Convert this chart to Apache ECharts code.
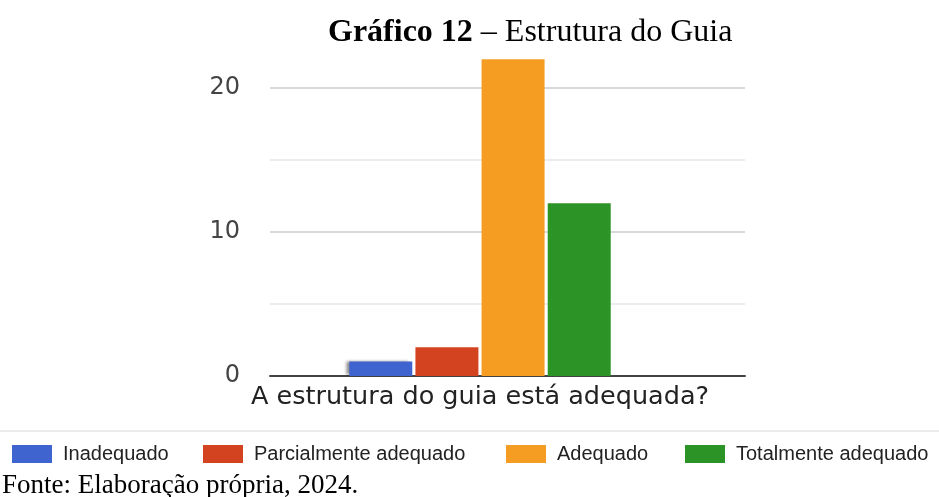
<!DOCTYPE html>
<html>
<head>
<meta charset="utf-8">
<script src="https://cdn.jsdelivr.net/npm/echarts@6/dist/echarts.min.js"></script>
<style>
html,body{margin:0;padding:0;background:#fff;}
#chart{width:939px;height:497px;}
</style>
</head>
<body>
<div id="chart"></div>
<script>
const categories = ['A estrutura do guia está adequada?'];
const seriesNames = ['Inadequado', 'Parcialmente adequado', 'Adequado', 'Totalmente adequado'];
const seriesValues = [[1], [2], [22], [12]];
const seriesColors = ['#3f63cf', '#d4431f', '#f59c23', '#2c9326'];
const yLabelTicks = [0, 10, 20];
const titleBold = 'Gráfico 12';
const titleRest = ' – Estrutura do Guia';
const sourceText = 'Fonte: Elaboração própria, 2024.';

const legendLefts = [12, 203, 506, 685];

const chart = echarts.init(document.getElementById('chart'), null, {renderer: 'canvas'});

const series = seriesNames.map((name, i) => ({
  name: name,
  type: 'bar',
  xAxisIndex: 1,
  yAxisIndex: 1,
  data: seriesValues[i],
  barWidth: 63,
  barGap: '5%',
  itemStyle: Object.assign({color: seriesColors[i]}, i === 0 ? {
    shadowColor: 'rgba(0,0,0,0.45)', shadowBlur: 3, shadowOffsetX: -3, shadowOffsetY: -1
  } : {}),
  emphasis: {disabled: true},
  animation: false
}));

const legends = seriesNames.map((name, i) => ({
  data: [name],
  left: legendLefts[i],
  top: 444,
  orient: 'horizontal',
  itemWidth: 40,
  itemHeight: 18,
  icon: 'rect',
  selectedMode: false,
  padding: 0,
  textStyle: {
    fontFamily: 'Liberation Sans, Arial, sans-serif',
    fontSize: 20,
    color: '#222',
    padding: [0, 0, 0, 6]
  }
}));

chart.setOption({
  animation: false,
  backgroundColor: '#fff',
  title: [
    {
      text: '{b|' + titleBold + '}' + titleRest,
      left: 328,
      top: 17,
      padding: 0,
      textStyle: {
        fontFamily: 'Liberation Serif, Times New Roman, serif',
        fontSize: 32,
        fontWeight: 'normal',
        color: '#000',
        rich: {
          b: {fontFamily: 'Liberation Serif, Times New Roman, serif', fontSize: 32, fontWeight: 'bold', color: '#000'}
        }
      }
    },
    {
      text: sourceText,
      left: 2,
      top: 472,
      padding: 0,
      textStyle: {
        fontFamily: 'Liberation Serif, Times New Roman, serif',
        fontSize: 27,
        fontWeight: 'normal',
        color: '#000'
      }
    }
  ],
  legend: legends,
  graphic: [
    {
      type: 'line',
      shape: {x1: 0, y1: 431, x2: 939, y2: 431},
      style: {stroke: '#ececec', lineWidth: 2},
      silent: true
    }
  ],
  grid: [
    {left: 270, right: 194, top: 16, bottom: 121, containLabel: false},
    {left: 270, width: 420, top: 16, bottom: 121, containLabel: false}
  ],
  xAxis: [
    {
      type: 'category', gridIndex: 0, data: [''],
      axisLine: {show: true, lineStyle: {color: '#444', width: 2}},
      axisTick: {show: false}, axisLabel: {show: false}, splitLine: {show: false}
    },
    {
      type: 'category', gridIndex: 1, data: categories,
      axisLine: {show: false}, axisTick: {show: false},
      axisLabel: {
        show: true, margin: 8,
        fontFamily: 'DejaVu Sans, sans-serif', fontSize: 25.5, color: '#222'
      }
    }
  ],
  yAxis: [
    {
      type: 'value', gridIndex: 0, min: 0, max: 25, interval: 5,
      axisLine: {show: false}, axisTick: {show: false},
      axisLabel: {
        margin: 30,
        fontFamily: 'DejaVu Sans, sans-serif', fontSize: 24, color: '#444',
        formatter: function (v) { return yLabelTicks.indexOf(v) >= 0 ? String(v) : ''; }
      },
      splitLine: {
        show: true, showMaxLine: false,
        lineStyle: {color: ['#cccccc', '#ececec', '#d9d9d9', '#ececec', '#d9d9d9'], width: 2}
      }
    },
    {
      type: 'value', gridIndex: 1, min: 0, max: 25, interval: 5,
      show: false, splitLine: {show: false}
    }
  ],
  series: series
});
</script>
</body>
</html>
